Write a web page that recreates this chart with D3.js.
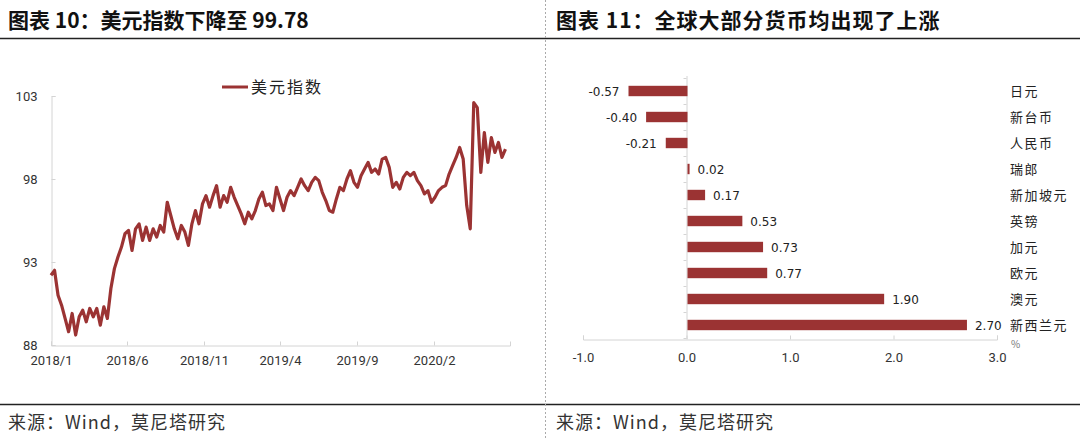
<!DOCTYPE html>
<html>
<head>
<meta charset="utf-8">
<script src="https://cdn.jsdelivr.net/npm/d3@7"></script>
<style>
  body { margin: 0; background: #fff; }
  svg { display: block; font-family: "Noto Sans CJK SC", "Noto Sans", sans-serif; }
</style>
</head>
<body>
<div id="chart"></div>
<script>
// ---- data ----
let dxyStart = new Date(2018, 0, 1);
// weekly dollar index values
let dxyValues = [
  92.2, 92.5, 91.0, 90.4, 89.6, 88.8, 89.9, 88.6, 89.7, 90.1,
  89.4, 90.2, 89.7, 90.2, 89.2, 90.3, 89.6, 91.4, 92.6, 93.3,
  93.9, 94.7, 94.9, 93.7, 95.0, 95.3, 94.3, 95.1, 94.3, 95.0,
  94.5, 95.2, 94.8, 96.6, 95.8, 95.0, 94.4, 95.2, 94.8, 94.0,
  95.3, 96.1, 95.3, 96.5, 97.0, 96.3, 97.0, 97.6, 96.3, 97.0,
  96.6, 97.5, 96.9, 96.4, 95.9, 95.3, 96.0, 95.6, 96.1, 96.8,
  97.2, 96.4, 96.5, 96.1, 97.5, 96.8, 96.1, 96.9, 97.3, 97.0,
  97.5, 98.0, 97.6, 97.3, 97.8, 98.1, 97.9, 97.2, 96.7, 96.1,
  96.0, 96.8, 97.5, 97.3, 98.0, 98.5, 97.8, 97.5, 98.2, 98.6,
  99.0, 98.4, 98.6, 98.3, 99.2, 99.3, 98.7, 97.5, 97.8, 97.4,
  98.1, 98.4, 98.2, 98.4, 97.9, 97.6, 97.1, 97.3, 96.6, 96.9,
  97.3, 97.5, 97.6, 98.3, 98.8, 99.3, 99.9, 99.2, 96.4, 95.0,
  102.6, 102.3, 98.4, 100.8, 99.0, 100.5, 99.6, 100.2, 99.3, 99.8
];
let dxyYTicks = [88, 93, 98, 103];
let dxyXTicks = ["2018/1", "2018/6", "2018/11", "2019/4", "2019/9", "2020/2"];

let currencies = ["日元", "新台币", "人民币", "瑞郎", "新加坡元", "英镑", "加元", "欧元", "澳元", "新西兰元"];
let changes = [-0.57, -0.40, -0.21, 0.02, 0.17, 0.53, 0.73, 0.77, 1.90, 2.70];
let changeTicks = [-1, 0, 1, 2, 3];

let red = "#9b3333";
let W = 1080, H = 440;
// plain hyphen minus like the original
let fmt1 = v => d3.format(".1f")(v).replace("−", "-");
let fmt2 = v => d3.format(".2f")(v).replace("−", "-");

let svg = d3.select("#chart").append("svg")
  .attr("width", W)
  .attr("height", H);

// ---- frame ----
svg.append("line").attr("x1", 0).attr("x2", W).attr("y1", 38.5).attr("y2", 38.5)
  .attr("stroke", "#222").attr("stroke-width", 1.5);
svg.append("line").attr("x1", 0).attr("x2", W).attr("y1", 404.5).attr("y2", 404.5)
  .attr("stroke", "#222").attr("stroke-width", 1.5);
svg.append("line").attr("x1", 545.5).attr("x2", 545.5).attr("y1", 0).attr("y2", H)
  .attr("stroke", "#aaa").attr("stroke-dasharray", "2,2");

svg.append("text").attr("x", 8).attr("y", 28)
  .attr("font-size", 21).attr("font-weight", "bold").attr("fill", "#111")
  .text("图表 10：美元指数下降至 99.78");
svg.append("text").attr("x", 556).attr("y", 28)
  .attr("font-size", 21).attr("font-weight", "bold").attr("fill", "#111")
  .attr("letter-spacing", 1)
  .text("图表 11：全球大部分货币均出现了上涨");

svg.append("text").attr("x", 8).attr("y", 429)
  .attr("font-size", 18).attr("fill", "#333").attr("letter-spacing", 1)
  .text("来源：Wind，莫尼塔研究");
svg.append("text").attr("x", 556).attr("y", 429)
  .attr("font-size", 18).attr("fill", "#333").attr("letter-spacing", 1)
  .text("来源：Wind，莫尼塔研究");

// ---- left: dollar index ----
let dxy = dxyValues.map((v, i) => ({ date: d3.timeDay.offset(dxyStart, i * 7), value: v }));

let x = d3.scaleTime()
  .domain([dxyStart, new Date(2020, 6, 1)])
  .range([51, 510]);
let y = d3.scaleLinear()
  .domain([88, 103])
  .range([345, 96]);

let tickDates = dxyXTicks.map(s => { let p = s.split("/"); return new Date(+p[0], +p[1] - 1, 1); });

let gx = svg.append("g").attr("transform", "translate(0,345.5)")
  .call(d3.axisBottom(x).tickValues(tickDates).tickSize(-4).tickPadding(10)
    .tickFormat((d, i) => dxyXTicks[i]));
let gy = svg.append("g").attr("transform", "translate(51.5,0)")
  .call(d3.axisLeft(y).tickValues(dxyYTicks).tickSize(-4).tickPadding(14));

[gx, gy].forEach(g => {
  g.select(".domain").attr("stroke", "#d4d4d4");
  g.selectAll(".tick line").attr("stroke", "#d4d4d4");
  g.selectAll(".tick text").attr("fill", "#333").attr("font-size", 13)
    .attr("font-family", "Roboto, 'Noto Sans', sans-serif");
});

svg.append("path")
  .datum(dxy)
  .attr("fill", "none")
  .attr("stroke", red)
  .attr("stroke-width", 3.2)
  .attr("stroke-linejoin", "round")
  .attr("d", d3.line().x(d => x(d.date)).y(d => y(d.value)));

// legend
svg.append("line").attr("x1", 222).attr("x2", 248).attr("y1", 87).attr("y2", 87)
  .attr("stroke", red).attr("stroke-width", 3);
svg.append("text").attr("x", 251).attr("y", 93)
  .attr("font-size", 16).attr("fill", "#222").attr("letter-spacing", 2)
  .text("美元指数");

// ---- right: currency changes ----
let xb = d3.scaleLinear()
  .domain([-1, 3])
  .range([583, 997]);
let yb = d3.scaleBand()
  .domain(currencies)
  .range([78, 338])
  .paddingInner(0.6)
  .paddingOuter(0.3);

let gxb = svg.append("g").attr("transform", "translate(0,339.5)")
  .call(d3.axisBottom(xb).tickValues(changeTicks).tickSize(-4).tickPadding(13)
    .tickFormat(fmt1));
gxb.select(".domain").attr("stroke", "#d4d4d4");
gxb.selectAll(".tick line").attr("stroke", "#d4d4d4");
gxb.selectAll(".tick text").attr("fill", "#333").attr("font-size", 13)
  .attr("font-family", "Roboto, 'Noto Sans', sans-serif");

// zero line with small ticks between categories
svg.append("line").attr("x1", xb(0) + 0.5).attr("x2", xb(0) + 0.5)
  .attr("y1", 76).attr("y2", 339).attr("stroke", "#d4d4d4");
svg.selectAll(".cat-tick")
  .data(d3.range(currencies.length + 1))
  .enter().append("line")
  .attr("x1", xb(0) - 3).attr("x2", xb(0))
  .attr("y1", i => yb.range()[0] + i * yb.step() + 0.5)
  .attr("y2", i => yb.range()[0] + i * yb.step() + 0.5)
  .attr("stroke", "#d4d4d4");

let rows = currencies.map((c, i) => ({ name: c, value: changes[i] }));

svg.selectAll(".bar")
  .data(rows)
  .enter().append("rect")
  .attr("class", "bar")
  .attr("x", d => xb(Math.min(0, d.value)) + 1)
  .attr("y", d => yb(d.name))
  .attr("width", d => Math.max(1, Math.abs(xb(d.value) - xb(0))))
  .attr("height", yb.bandwidth())
  .attr("fill", red);

svg.selectAll(".val")
  .data(rows)
  .enter().append("text")
  .attr("x", d => d.value < 0 ? xb(d.value) - 8 : xb(d.value) + 9)
  .attr("y", d => yb(d.name) + yb.bandwidth() / 2 + 4.5)
  .attr("text-anchor", d => d.value < 0 ? "end" : "start")
  .attr("font-size", 12).attr("fill", "#222")
  .attr("font-family", "'DejaVu Sans', sans-serif")
  .text(d => fmt2(d.value));

svg.selectAll(".cat")
  .data(rows)
  .enter().append("text")
  .attr("x", 1010)
  .attr("y", d => yb(d.name) + yb.bandwidth() / 2 + 5)
  .attr("font-size", 13).attr("fill", "#222").attr("letter-spacing", 1.5)
  .text(d => d.name);

svg.append("text").attr("x", 1011).attr("y", 348)
  .attr("font-size", 10).attr("fill", "#777").text("%");
</script>
</body>
</html>
